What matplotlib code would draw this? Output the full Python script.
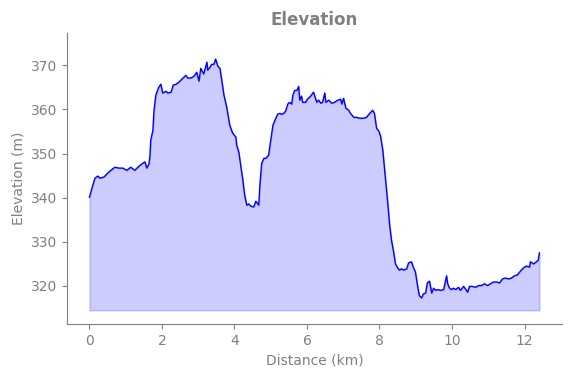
import numpy as np
import matplotlib
matplotlib.use('Agg')
import matplotlib.pyplot as plt

# distance along the track (km) and elevation (m)
distance = [0.00, 0.07, 0.15, 0.23, 0.29, 0.40, 0.51, 0.59, 0.70, 0.81, 0.92, 1.03, 1.14, 1.25,
            1.36, 1.47, 1.53, 1.58, 1.64, 1.67, 1.69, 1.75, 1.78, 1.83, 1.91, 1.97, 2.02, 2.11,
            2.16, 2.25, 2.31, 2.39, 2.47, 2.58, 2.66, 2.71, 2.80, 2.88, 2.96, 3.02, 3.07, 3.15,
            3.24, 3.26, 3.32, 3.37, 3.43, 3.48, 3.54, 3.60, 3.65, 3.71, 3.79, 3.87, 3.95, 4.04,
            4.06, 4.12, 4.17, 4.23, 4.28, 4.34, 4.39, 4.45, 4.53, 4.59, 4.67, 4.70, 4.75, 4.81,
            4.86, 4.94, 5.00, 5.06, 5.14, 5.19, 5.25, 5.30, 5.36, 5.41, 5.47, 5.52, 5.58, 5.61,
            5.66, 5.72, 5.77, 5.80, 5.85, 5.88, 5.96, 6.01, 6.10, 6.18, 6.27, 6.32, 6.38, 6.43,
            6.49, 6.52, 6.60, 6.68, 6.76, 6.85, 6.93, 6.96, 7.01, 7.07, 7.15, 7.20, 7.29, 7.37,
            7.45, 7.56, 7.64, 7.73, 7.81, 7.86, 7.92, 7.98, 8.03, 8.09, 8.17, 8.22, 8.28, 8.33,
            8.39, 8.44, 8.50, 8.55, 8.61, 8.66, 8.75, 8.80, 8.88, 8.94, 8.99, 9.05, 9.10, 9.16,
            9.21, 9.27, 9.32, 9.38, 9.44, 9.49, 9.55, 9.60, 9.68, 9.77, 9.85, 9.88, 9.93, 9.99,
            10.04, 10.10, 10.18, 10.23, 10.32, 10.40, 10.43, 10.48, 10.56, 10.65, 10.73, 10.81,
            10.90, 10.98, 11.06, 11.14, 11.23, 11.31, 11.39, 11.47, 11.56, 11.64, 11.72, 11.80,
            11.89, 11.97, 12.05, 12.14, 12.16, 12.25, 12.33, 12.38, 12.41]

elevation = [340.1, 342.2, 344.4, 344.9, 344.4, 344.7, 345.6, 346.2, 346.9, 346.7, 346.7, 346.2,
             346.9, 346.2, 347.1, 347.8, 348.1, 346.7, 347.6, 349.6, 353.0, 355.3, 359.8, 363.2,
             365.0, 365.7, 363.7, 364.1, 363.7, 363.9, 365.5, 365.7, 366.2, 367.1, 367.7, 367.1,
             367.1, 367.5, 368.4, 366.4, 369.3, 368.0, 370.7, 368.9, 369.5, 370.2, 370.2, 371.4,
             369.8, 369.3, 366.6, 363.2, 360.3, 356.4, 354.6, 353.7, 351.9, 350.3, 347.4, 344.0,
             340.6, 338.3, 338.6, 338.1, 337.9, 339.2, 338.3, 342.8, 347.8, 348.9, 348.9, 349.6,
             353.0, 356.4, 358.0, 358.9, 359.1, 358.9, 359.1, 359.6, 361.2, 361.6, 361.2, 363.2,
             364.3, 364.3, 365.2, 362.1, 363.0, 361.6, 361.6, 362.3, 363.0, 363.9, 361.6, 362.1,
             361.4, 361.6, 363.7, 361.6, 362.1, 361.4, 361.6, 362.1, 362.3, 361.2, 362.5, 360.3,
             359.8, 359.1, 358.2, 358.2, 358.0, 358.0, 358.2, 359.1, 359.8, 359.1, 355.7, 355.1,
             353.9, 350.8, 344.0, 339.5, 333.8, 330.4, 327.7, 325.0, 324.1, 323.6, 323.9, 323.6,
             323.9, 325.2, 325.5, 324.1, 323.2, 320.0, 317.8, 317.3, 318.2, 318.4, 320.7, 321.1,
             318.4, 319.5, 319.0, 319.2, 319.0, 319.2, 322.3, 320.5, 319.5, 319.2, 319.5, 319.2,
             319.7, 319.0, 319.9, 319.0, 318.6, 319.9, 319.9, 319.7, 320.1, 320.1, 320.5, 320.1,
             320.5, 320.9, 320.9, 320.7, 321.6, 321.8, 321.6, 321.8, 322.3, 322.5, 323.4, 324.1,
             324.5, 324.3, 325.5, 325.0, 325.5, 325.9, 327.5]

fill_base = 314.5

fig = plt.figure(figsize=(5.71, 3.78), dpi=100)
ax = fig.add_axes([0.1173, 0.143, 0.8667, 0.7697])

ax.plot(distance, elevation, color='blue', linewidth=1)
ax.fill_between(distance, elevation, fill_base, color='blue', alpha=0.2)

ax.set_xlim(-0.62, 13.03)
ax.set_ylim(311.4, 377.3)
ax.set_xticks([0, 2, 4, 6, 8, 10, 12])
ax.set_yticks([320, 330, 340, 350, 360, 370])

ax.set_title('Elevation', color='gray', fontweight='bold', fontsize=12)
ax.set_xlabel('Distance (km)', color='gray')
ax.set_ylabel('Elevation (m)', color='gray')
ax.tick_params(colors='gray')
ax.spines['top'].set_visible(False)
ax.spines['right'].set_visible(False)
ax.spines['left'].set_color('gray')
ax.spines['bottom'].set_color('gray')

fig.savefig('out.png', dpi=100)
